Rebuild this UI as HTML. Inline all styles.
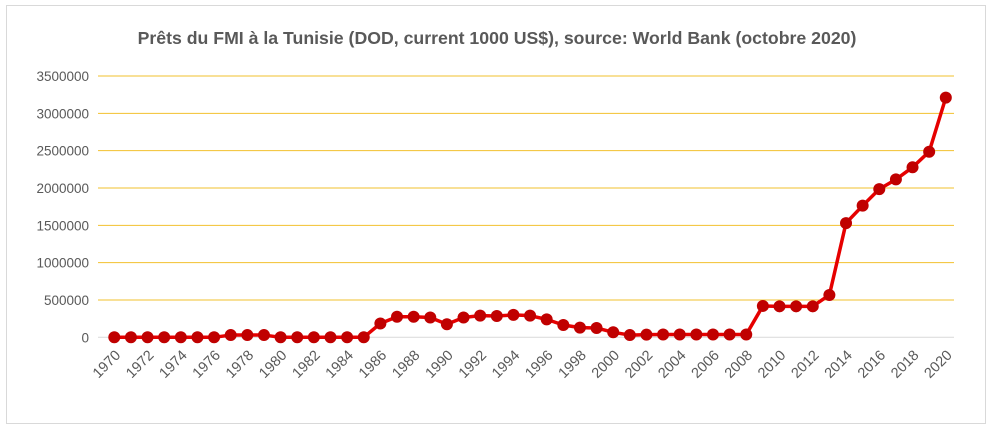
<!DOCTYPE html>
<html><head><meta charset="utf-8"><style>
body{margin:0;background:#fff;font-family:"Liberation Sans",Calibri,sans-serif}
</style></head><body>
<svg id="chart" width="994" height="430" xmlns="http://www.w3.org/2000/svg">
<rect x="6.5" y="5.5" width="979" height="418" fill="#fff" stroke="#d9d9d9"/>
<text x="497" y="44" text-anchor="middle" font-size="17.7" font-weight="bold" fill="#595959">Prêts du FMI à la Tunisie (DOD, current 1000 US$), source: World Bank (octobre 2020)</text>
<g id="grid"></g><g id="yl"></g><g id="xl"></g><g id="series"></g>
</svg>
<script>
const years=[];for(let y=1970;y<=2020;y++)years.push(y);
const values=[0,0,0,0,0,0,0,30000,30000,30000,0,0,0,0,0,0,185000,275000,275000,265000,175000,265000,290000,285000,300000,290000,240000,165000,130000,125000,67000,30000,35000,38000,38000,38000,38000,38000,38000,420000,415000,415000,415000,567000,1530000,1763000,1985000,2115000,2277000,2486000,3210000];
const yTicks=[0,500000,1000000,1500000,2000000,2500000,3000000,3500000];
const xTickLabels=years.filter(y=>y%2===0);
const NS="http://www.w3.org/2000/svg";
const x=y=>114.3+(y-1970)*16.63;
const yv=v=>337.3-v*261.3/3500000;
function mk(t,a,p){const e=document.createElementNS(NS,t);for(const k in a)e.setAttribute(k,a[k]);document.getElementById(p).appendChild(e);return e;}
yTicks.forEach(t=>{
 const l=mk('line',{x1:98,x2:954,y1:yv(t),y2:yv(t),stroke:t===0?'#d9d9d9':'#f2c12e','stroke-width':1},'grid');
 
 
 const tx=mk('text',{x:89,y:yv(t)+5,'text-anchor':'end','font-size':13.5,fill:'#595959'},'yl');
 tx.textContent=t;
 
 
});
xTickLabels.forEach(y=>{
 const tx=mk('text',{x:x(y)+7,y:356,'text-anchor':'end','font-size':14.5,fill:'#595959',transform:`rotate(-45 ${x(y)+7} 356)`},'xl');
 tx.textContent=y;
 
 
});
const pl=mk('polyline',{points:years.map((y,i)=>x(y)+','+yv(values[i])).join(' '),fill:'none',stroke:'#e60000','stroke-width':3.5,'stroke-linejoin':'round'},'series');


years.forEach((y,i)=>{
 const c=mk('circle',{cx:x(y),cy:yv(values[i]),r:6,fill:'#c00000'},'series');
 
 
});
</script>
</body></html>
